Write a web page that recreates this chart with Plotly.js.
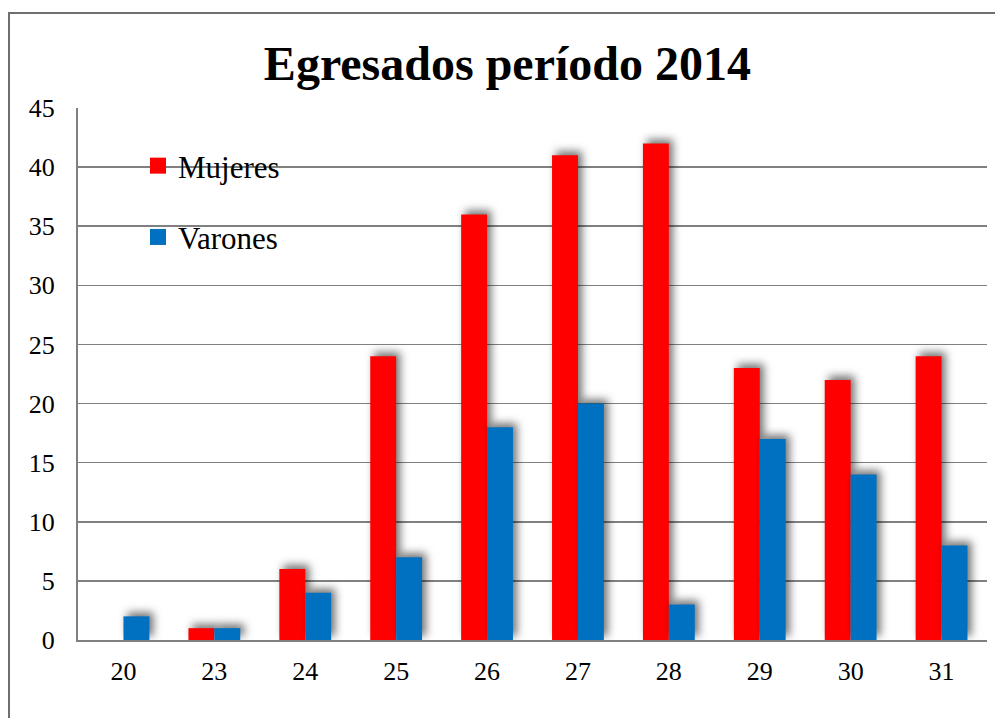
<!DOCTYPE html>
<html>
<head>
<meta charset="utf-8">
<script src="https://cdn.plot.ly/plotly-3.0.1.min.js"></script>
<style>
html, body { margin: 0; padding: 0; background: #fff; }
#chart { width: 995px; height: 718px; }
.barlayer .point path { filter: drop-shadow(4px -4px 4px rgba(0,0,0,0.55)); }
</style>
</head>
<body>
<div id="chart"></div>
<script>
const categories = ['20', '23', '24', '25', '26', '27', '28', '29', '30', '31'];
const mujeres = [0, 1, 6, 24, 36, 41, 42, 23, 22, 24];
const varones = [2, 1, 4, 7, 18, 20, 3, 17, 14, 8];
const yTicks = [0, 5, 10, 15, 20, 25, 30, 35, 40, 45];
const seriesNames = ['Mujeres', 'Varones'];
const seriesColors = ['#FF0000', '#0070C0'];

const serif = 'Liberation Serif';

const traces = [
  { type: 'bar', name: seriesNames[0], x: categories, y: mujeres,
    marker: { color: seriesColors[0] }, showlegend: false },
  { type: 'bar', name: seriesNames[1], x: categories, y: varones,
    marker: { color: seriesColors[1] }, showlegend: false },
  { type: 'scatter', mode: 'markers', name: seriesNames[0], x: [categories[0]], y: [null],
    marker: { symbol: 'square', size: 17, color: seriesColors[0] }, legendgroup: 'm', hoverinfo: 'skip' },
  { type: 'scatter', mode: 'markers', name: seriesNames[1], x: [categories[0]], y: [null],
    marker: { symbol: 'square', size: 17, color: seriesColors[1] }, legendgroup: 'v', hoverinfo: 'skip' }
];

const L = 78, R = 987, T = 108, B = 640;
const W = 995, H = 718;
const pw = R - L, ph = B - T;

const layout = {
  width: W, height: H,
  margin: { l: L, r: W - R, t: T, b: H - B, pad: 0 },
  paper_bgcolor: '#fff', plot_bgcolor: '#fff',
  font: { family: serif, color: '#000', size: 26, weight: 'normal', style: 'normal' },
  title: { text: '<b>Egresados período 2014</b>', font: { family: serif, size: 48, color: '#000' },
           x: 0.51, xanchor: 'center', y: 1 - 63 / H, yanchor: 'middle', yref: 'container' },
  barmode: 'group', bargap: 0.43, bargroupgap: 0,
  xaxis: { type: 'category', range: [-0.5, categories.length - 0.5], showgrid: false,
           showline: true, linecolor: '#808080', linewidth: 2,
           ticks: '', tickfont: { family: serif, size: 26, color: '#000' }, ticklabelstandoff: 7,
           fixedrange: true },
  yaxis: { range: [0, 45], tickvals: yTicks, ticktext: yTicks.map(String),
           showgrid: true, gridcolor: '#808080', gridwidth: 1.5,
           showline: true, linecolor: '#808080', linewidth: 2, zeroline: false,
           ticks: '', tickfont: { family: serif, size: 26, color: '#000' }, ticklabelstandoff: 16,
           fixedrange: true },
  showlegend: true,
  legend: { x: (138 - L) / pw, xanchor: 'left', y: (B - 139) / ph, yanchor: 'top',
            bgcolor: 'rgba(255,255,255,0)', borderwidth: 0, font: { family: serif, size: 31, color: '#000' },
            tracegroupgap: 28, orientation: 'v', itemsizing: 'trace' },
  shapes: [
    { type: 'rect', xref: 'paper', yref: 'paper',
      x0: (9 - L) / pw, x1: (1010 - L) / pw, y0: (B - 730) / ph, y1: (B - 13) / ph,
      line: { color: '#6f6f6f', width: 2 }, fillcolor: 'rgba(0,0,0,0)', layer: 'below' },
    { type: 'rect', xref: 'paper', yref: 'paper',
      x0: (120 - L) / pw, x1: (317 - L) / pw, y0: (B - 265) / ph, y1: (B - 140) / ph,
      line: { width: 0 }, fillcolor: '#ffffff', layer: 'between' }
  ]
};

Plotly.newPlot('chart', traces, layout, { displayModeBar: false, staticPlot: true });
</script>
</body>
</html>
